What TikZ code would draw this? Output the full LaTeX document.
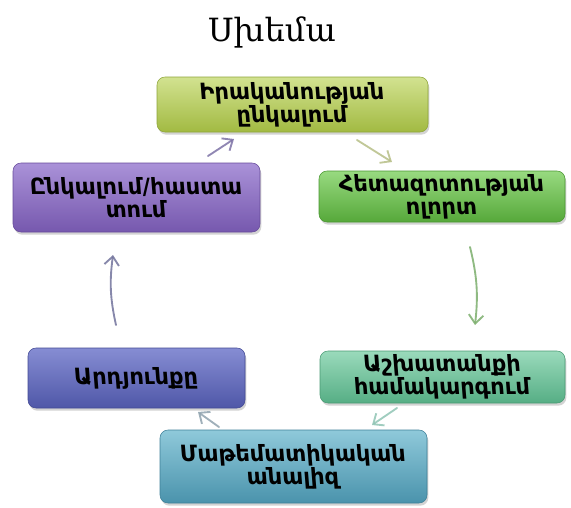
\documentclass[tikz,border=0pt]{standalone}
\usepackage{fontspec}
\setmainfont{DejaVu Sans}
\newfontfamily\armserif{DejaVu Serif}
\newfontfamily\boxfont[FakeSlant=-0.08]{DejaVu Sans Bold}
\usetikzlibrary{arrows.meta,shadows}
\definecolor{oliveT}{HTML}{D2E290}
\definecolor{oliveB}{HTML}{A2BA42}
\definecolor{oliveD}{HTML}{8EA53A}
\definecolor{purT}{HTML}{AA92D8}
\definecolor{purB}{HTML}{7658AE}
\definecolor{purD}{HTML}{664A9A}
\definecolor{grnT}{HTML}{98DA80}
\definecolor{grnB}{HTML}{56A83A}
\definecolor{grnD}{HTML}{4A9632}
\definecolor{bluT}{HTML}{868DD3}
\definecolor{bluB}{HTML}{4F57A8}
\definecolor{bluD}{HTML}{434A94}
\definecolor{minT}{HTML}{9ADABB}
\definecolor{minB}{HTML}{56AE85}
\definecolor{minD}{HTML}{4A9A74}
\definecolor{tealT}{HTML}{8FC9DA}
\definecolor{tealB}{HTML}{4A93AC}
\definecolor{tealD}{HTML}{3E8098}
\definecolor{arA}{HTML}{7D72A6}
\definecolor{arB}{HTML}{B6BE86}
\definecolor{arC}{HTML}{7BAE6C}
\definecolor{arD}{HTML}{8FC4B4}
\definecolor{arE}{HTML}{8FA2AE}
\definecolor{arF}{HTML}{72739C}
\tikzset{
  boxstyle/.style={rounded corners=6pt, align=center, inner sep=0pt,
    font=\boxfont\fontsize{16.8}{17.5}\selectfont, text=black,
    drop shadow={opacity=0.35, shadow xshift=1pt, shadow yshift=-2pt}},
  flowarrow/.style={line width=1.4pt, line cap=round, draw opacity=0.85,
    -{Straight Barb[length=6.5pt,width=11pt,line width=1.4pt]}}
}
\begin{document}
\begin{tikzpicture}[x=0.75pt,y=-0.75pt]
\useasboundingbox (0,0) rectangle (571,507);
\node (title) at (272,32) {\armserif\fontsize{24}{28}\selectfont Սխեմա};
\node[boxstyle, draw=oliveD, top color=oliveT, bottom color=oliveB,
  minimum width=203.25pt, minimum height=41.25pt] (b1) at (292.5,104.5)
  {Իրականության\\ընկալում};
\node[boxstyle, draw=purD, top color=purT, bottom color=purB,
  minimum width=185.25pt, minimum height=51.75pt] (b2) at (136.5,197.5)
  {Ընկալում/հաստա\\տում};
\node[boxstyle, draw=grnD, top color=grnT, bottom color=grnB,
  minimum width=184.5pt, minimum height=38.25pt] (b3) at (442,196.5)
  {Հետազոտության\\ոլորտ};
\node[boxstyle, draw=bluD, top color=bluT, bottom color=bluB,
  minimum width=162.75pt, minimum height=45pt] (b4) at (136.5,378)
  {Արդյունքը};
\node[boxstyle, draw=minD, top color=minT, bottom color=minB,
  minimum width=183.75pt, minimum height=39pt] (b5) at (442.5,377)
  {Աշխատանքի\\համակարգում};
\node[boxstyle, draw=tealD, top color=tealT, bottom color=tealB,
  minimum width=200.25pt, minimum height=54.75pt] (b6) at (293.5,466.5)
  {Մաթեմատիկական\\անալիզ};
% arrow end points
\coordinate (a1s) at (208,156);
\coordinate (a1e) at (234,139);
\coordinate (a2s) at (357,140);
\coordinate (a2e) at (392,162);
\coordinate (a3s) at (470,247);
\coordinate (a3e) at (475,325);
\coordinate (a4s) at (397,408);
\coordinate (a4e) at (372,425);
\coordinate (a5s) at (219,427);
\coordinate (a5e) at (198,412);
\coordinate (a6s) at (116,325);
\coordinate (a6e) at (113,255);
\draw[flowarrow, draw=arA] (a1s) -- (a1e);
\draw[flowarrow, draw=arB] (a2s) -- (a2e);
\draw[flowarrow, draw=arC] (a3s) to[bend left=10] (a3e);
\draw[flowarrow, draw=arD] (a4s) -- (a4e);
\draw[flowarrow, draw=arE] (a5s) -- (a5e);
\draw[flowarrow, draw=arF] (a6s) to[bend left=10] (a6e);
\end{tikzpicture}
\end{document}
